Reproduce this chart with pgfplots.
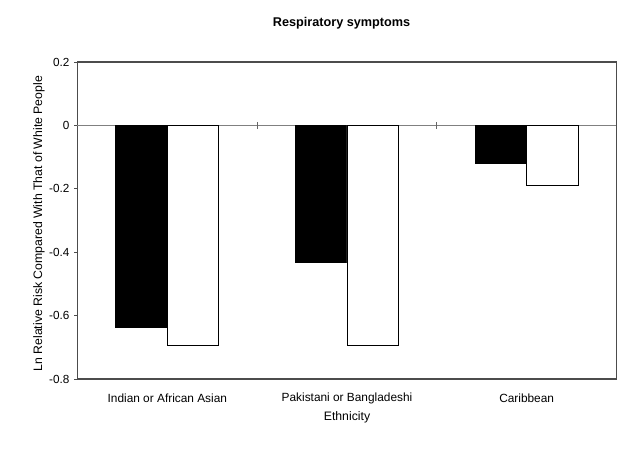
\documentclass[border=0pt]{standalone}
\usepackage{pgfplots}
\pgfplotsset{compat=1.18}
\usepackage{fontspec}
\setmainfont{Liberation Sans}
\begin{document}
\begin{tikzpicture}
\begin{axis}[
  at={(0pt,0pt)}, anchor=south west,
  scale only axis,
  width=404.25pt, height=237.75pt,
  xmin=-0.5, xmax=2.5,
  ymin=-0.8, ymax=0.2,
  axis line style={black!70, line width=0.8pt},
  ybar=0pt, bar width=0.287,
  xtick={0,1,2},
  xticklabels={Indian or African Asian, Pakistani or Bangladeshi, Caribbean},
  x tick style={draw=none},
  xticklabel style={font=\fontsize{8.9}{11}\selectfont, anchor=center, yshift=-12pt},
  ytick={-0.8,-0.6,-0.4,-0.2,0,0.2},
  yticklabels={-0.8,-0.6,-0.4,-0.2,0,0.2},
  yticklabel style={font=\fontsize{8.8}{10}\selectfont},
  ytick pos=left,
  tick align=outside,
  y tick style={black!70, line width=0.6pt},
  major tick length=2.5pt,
  xlabel={Ethnicity},
  xlabel style={font=\fontsize{9.2}{11}\selectfont, at={(axis description cs:0.5,-0.12)}, anchor=center},
  ylabel={Ln Relative Risk Compared With That of White People},
  ylabel style={font=\fontsize{9.2}{11}\selectfont, at={(axis description cs:-0.0714,0.49)}, anchor=center},
  title={Respiratory symptoms},
  title style={font=\bfseries\fontsize{9.5}{11}\selectfont, at={(axis description cs:0.49,1.123)}, anchor=center, yshift=-6pt},
  clip=false,
]
\draw[black!50, line width=0.5pt] (axis cs:-0.5,0) -- (axis cs:2.5,0);
\draw[black!60, line width=0.5pt] ([yshift=-2.5pt]axis cs:0.5,0) -- ([yshift=2.5pt]axis cs:0.5,0);
\draw[black!60, line width=0.5pt] ([yshift=-2.5pt]axis cs:1.5,0) -- ([yshift=2.5pt]axis cs:1.5,0);
\addplot[fill=black, draw=black, line width=0.6pt] coordinates {(0,-0.637) (1,-0.433) (2,-0.119)};
\addplot[fill=white, draw=black, line width=0.6pt] coordinates {(0,-0.695) (1,-0.695) (2,-0.188)};
\end{axis}
\path[use as bounding box] (-58.125pt,-53.25pt) rectangle (421.875pt,284.25pt);
\end{tikzpicture}
\end{document}
